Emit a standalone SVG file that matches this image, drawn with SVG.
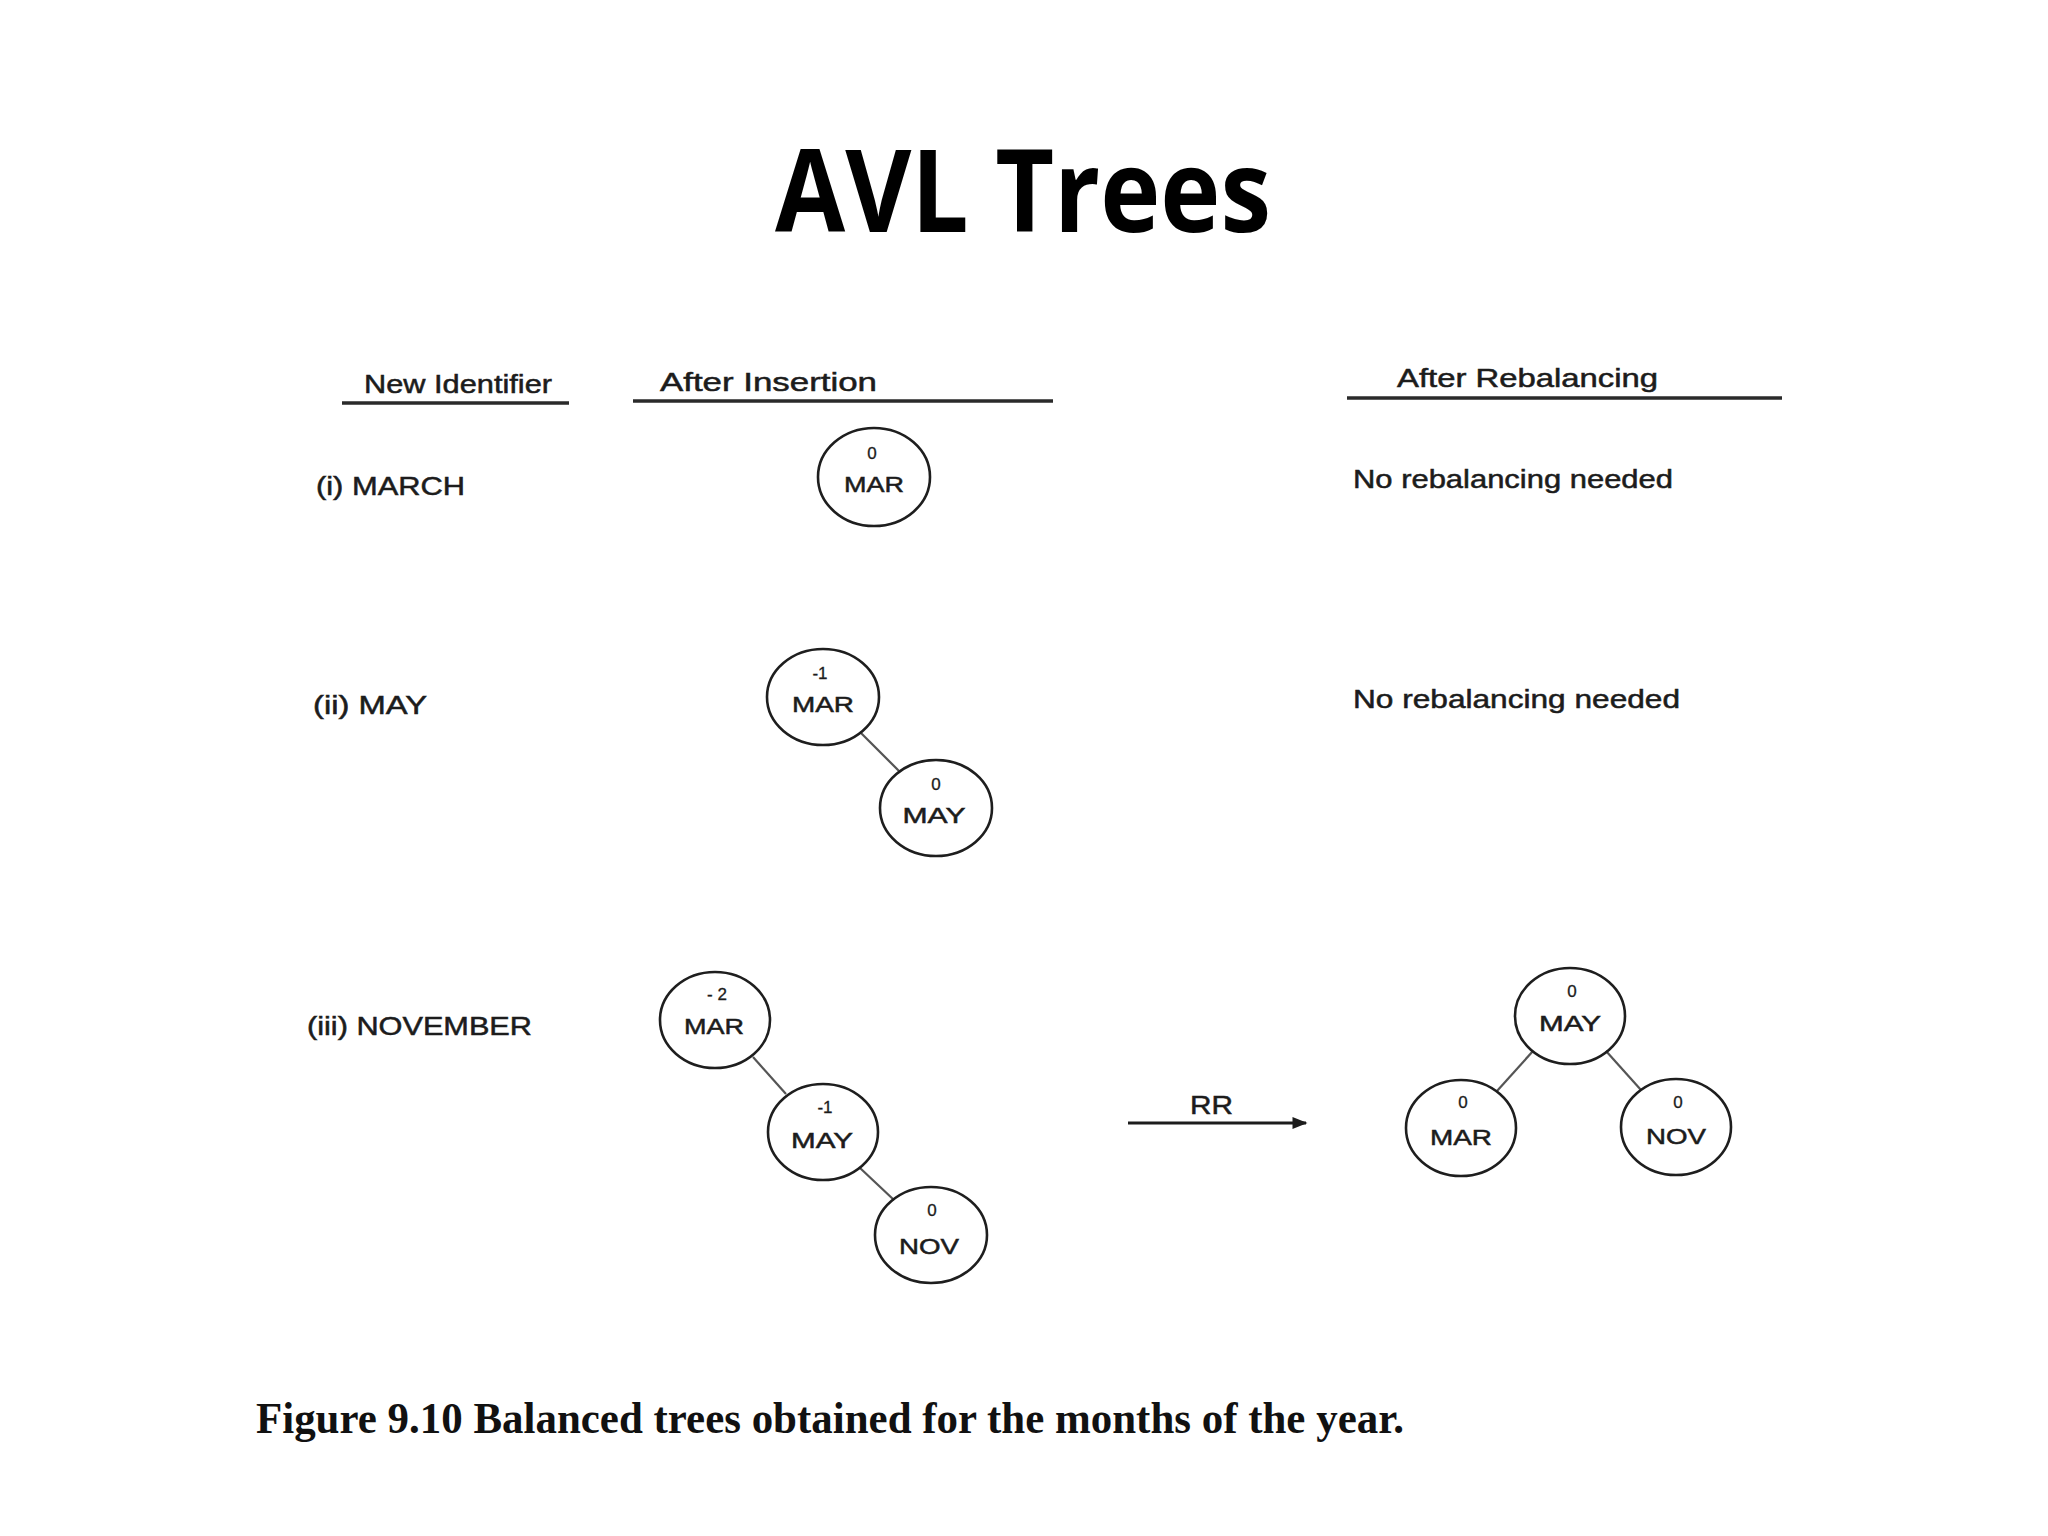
<svg xmlns="http://www.w3.org/2000/svg" width="2048" height="1536" viewBox="0 0 2048 1536">
<style>
.lbl{font-family:"Liberation Sans",Arial,sans-serif;font-size:25px;fill:#1c1c1c;stroke:#1c1c1c;stroke-width:0.5}
.nd{fill:none;stroke:#1e1e1e;stroke-width:2.6}
.nt{font-family:"Liberation Sans",Arial,sans-serif;font-size:22px;fill:#1c1c1c;stroke:#1c1c1c;stroke-width:0.5;text-anchor:middle}
.bf{font-family:"Liberation Sans",Arial,sans-serif;font-size:17px;fill:#1c1c1c;stroke:#1c1c1c;stroke-width:0.3;text-anchor:middle}
.ul{stroke:#2a2a2a;stroke-width:3.5}
.edge{stroke:#555;stroke-width:2.2}
</style>
<defs>
<marker id="ah" viewBox="0 0 10 10" refX="9" refY="5" markerWidth="7" markerHeight="5" markerUnits="strokeWidth" orient="auto">
<path d="M0,1 L10,5 L0,9 Z" fill="#1c1c1c"/>
</marker>
</defs>
<rect width="2048" height="1536" fill="#ffffff"/>
<text x="775" y="232" font-family="'Open Sans','Liberation Sans',sans-serif" font-weight="700" font-size="114" textLength="496" lengthAdjust="spacingAndGlyphs" fill="#000">AVL Trees</text>

<g id="headers">
<text class="lbl" x="364" y="393" textLength="188" lengthAdjust="spacingAndGlyphs">New Identifier</text>
<line class="ul" x1="342" y1="403" x2="569" y2="403"/>
<text class="lbl" x="660" y="391" textLength="217" lengthAdjust="spacingAndGlyphs">After  Insertion</text>
<line class="ul" x1="633" y1="401" x2="1053" y2="401"/>
<text class="lbl" x="1397" y="387" textLength="261" lengthAdjust="spacingAndGlyphs">After  Rebalancing</text>
<line class="ul" x1="1347" y1="398" x2="1782" y2="398"/>
</g>

<g id="row-labels">
<text class="lbl" x="316" y="495" textLength="149" lengthAdjust="spacingAndGlyphs">(i) MARCH</text>
<text class="lbl" x="313" y="714" textLength="114" lengthAdjust="spacingAndGlyphs">(ii) MAY</text>
<text class="lbl" x="307" y="1035" textLength="225" lengthAdjust="spacingAndGlyphs">(iii) NOVEMBER</text>
<text class="lbl" x="1353" y="488" textLength="320" lengthAdjust="spacingAndGlyphs">No rebalancing needed</text>
<text class="lbl" x="1353" y="708" textLength="327" lengthAdjust="spacingAndGlyphs">No rebalancing needed</text>
</g>

<g id="connectors">
<line class="edge" x1="861" y1="733" x2="899" y2="771"/>
<line class="edge" x1="753" y1="1057" x2="786" y2="1094"/>
<line class="edge" x1="860" y1="1168" x2="894" y2="1200"/>
<line class="edge" x1="1533" y1="1051" x2="1497" y2="1091"/>
<line class="edge" x1="1606" y1="1051" x2="1641" y2="1090"/>
<line x1="1128" y1="1123" x2="1306" y2="1123" stroke="#1c1c1c" stroke-width="3" marker-end="url(#ah)"/>
<text class="lbl" x="1190" y="1114" textLength="43" lengthAdjust="spacingAndGlyphs">RR</text>
</g>

<g id="n1-mar">
<ellipse class="nd" cx="874" cy="477" rx="56" ry="49"/>
<text class="bf" x="872" y="459">0</text>
<text class="nt" x="874" y="492" textLength="60" lengthAdjust="spacingAndGlyphs">MAR</text>
</g>

<g id="n2-mar">
<ellipse class="nd" cx="823" cy="697" rx="56" ry="48"/>
<text class="bf" x="820" y="679">-1</text>
<text class="nt" x="823" y="712" textLength="62" lengthAdjust="spacingAndGlyphs">MAR</text>
</g>
<g id="n2-may">
<ellipse class="nd" cx="936" cy="808" rx="56" ry="48"/>
<text class="bf" x="936" y="790">0</text>
<text class="nt" x="934" y="823" textLength="63" lengthAdjust="spacingAndGlyphs">MAY</text>
</g>

<g id="n3-mar">
<ellipse class="nd" cx="715" cy="1020" rx="55" ry="48"/>
<text class="bf" x="717" y="1000">- 2</text>
<text class="nt" x="714" y="1034" textLength="60" lengthAdjust="spacingAndGlyphs">MAR</text>
</g>
<g id="n3-may">
<ellipse class="nd" cx="823" cy="1132" rx="55" ry="48"/>
<text class="bf" x="825" y="1113">-1</text>
<text class="nt" x="822" y="1148" textLength="62" lengthAdjust="spacingAndGlyphs">MAY</text>
</g>
<g id="n3-nov">
<ellipse class="nd" cx="931" cy="1235" rx="56" ry="48"/>
<text class="bf" x="932" y="1216">0</text>
<text class="nt" x="929" y="1254" textLength="60" lengthAdjust="spacingAndGlyphs">NOV</text>
</g>

<g id="r-may">
<ellipse class="nd" cx="1570" cy="1016" rx="55" ry="48"/>
<text class="bf" x="1572" y="997">0</text>
<text class="nt" x="1570" y="1031" textLength="62" lengthAdjust="spacingAndGlyphs">MAY</text>
</g>
<g id="r-mar">
<ellipse class="nd" cx="1461" cy="1128" rx="55" ry="48"/>
<text class="bf" x="1463" y="1108">0</text>
<text class="nt" x="1461" y="1145" textLength="62" lengthAdjust="spacingAndGlyphs">MAR</text>
</g>
<g id="r-nov">
<ellipse class="nd" cx="1676" cy="1127" rx="55" ry="48"/>
<text class="bf" x="1678" y="1108">0</text>
<text class="nt" x="1676" y="1144" textLength="60" lengthAdjust="spacingAndGlyphs">NOV</text>
</g>

<text x="256" y="1433" font-family="'Liberation Serif','Times New Roman',serif" font-weight="700" font-size="44" textLength="1148" lengthAdjust="spacingAndGlyphs" fill="#111">Figure 9.10 Balanced trees obtained for the months of the year.</text>
</svg>
